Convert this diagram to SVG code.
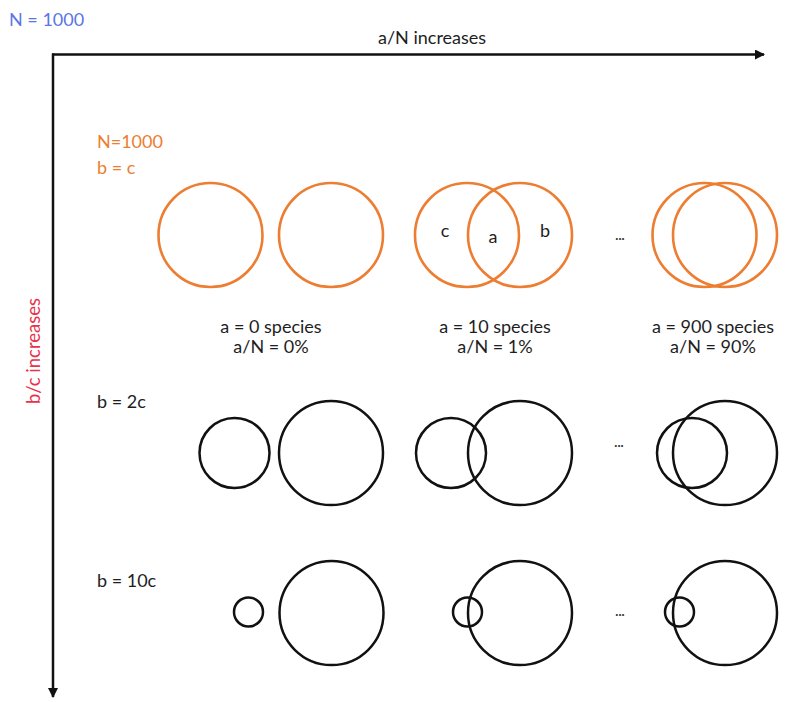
<svg xmlns="http://www.w3.org/2000/svg" width="795" height="702" viewBox="0 0 795 702">
  <defs>
    <marker id="arrow" viewBox="0 0 10 10" refX="9" refY="5" markerWidth="4" markerHeight="4" orient="auto" markerUnits="strokeWidth">
      <path d="M0,0 L10,5 L0,10 z" fill="#111"/>
    </marker>
  </defs>
  <style>
    text { font-family: Lato, "Open Sans", "Liberation Sans", sans-serif; font-size: 18px; fill: #1e1e1e; }
    .blue { fill: #5a76e4; }
    .orange { fill: #ed7d31; }
    .red { fill: #e8324c; font-size: 18.5px; }
    .mid { text-anchor: middle; }
    .dots { font-size: 13px; text-anchor: middle; font-weight: bold; fill: #333; }
    .axis { stroke: #111; stroke-width: 2.5; fill: none; }
    .oc { fill: none; stroke: #ed7d31; stroke-width: 2.6; }
    .bc { fill: none; stroke: #111; stroke-width: 2.5; }
  </style>
  <rect width="795" height="702" fill="#fff"/>

  <!-- axes -->
  <g id="connectors">
    <path class="axis" d="M52,54.5 H764" marker-end="url(#arrow)"/>
    <path class="axis" d="M53,53.5 V697" marker-end="url(#arrow)"/>
  </g>

  <!-- header and axis captions -->
  <g id="captions">
    <text class="blue" x="9" y="26">N = 1000</text>
    <text x="378" y="44">a/N increases</text>
    <text class="red mid" transform="translate(40,351) rotate(-90)">b/c increases</text>
  </g>

  <!-- row labels -->
  <g id="row-labels">
    <text class="orange" x="97" y="148">N=1000</text>
    <text class="orange" x="97" y="174">b = c</text>
    <text x="97" y="408">b = 2c</text>
    <text x="97" y="587">b = 10c</text>
  </g>

  <!-- column labels -->
  <g id="column-labels">
    <text class="mid" x="271" y="333">a = 0 species</text>
    <text class="mid" x="271" y="353">a/N = 0%</text>
    <text class="mid" x="495" y="333">a = 10 species</text>
    <text class="mid" x="495" y="353">a/N = 1%</text>
    <text class="mid" x="713" y="333">a = 900 species</text>
    <text class="mid" x="713" y="353">a/N = 90%</text>
  </g>

  <!-- row 1: b = c -->
  <g id="r1c1">
    <circle class="oc" cx="210.5" cy="235" r="52"/>
    <circle class="oc" cx="331" cy="235" r="52"/>
  </g>
  <g id="r1c2">
    <circle class="oc" cx="467" cy="235" r="52"/>
    <circle class="oc" cx="520" cy="235" r="52"/>
    <text class="mid" x="445" y="237">c</text>
    <text class="mid" x="493" y="243">a</text>
    <text class="mid" x="545" y="237">b</text>
  </g>
  <g id="r1dots"><text class="dots" x="620" y="240">...</text></g>
  <g id="r1c3">
    <circle class="oc" cx="704.5" cy="235" r="52"/>
    <circle class="oc" cx="725" cy="235" r="52"/>
  </g>

  <!-- row 2: b = 2c -->
  <g id="r2c1">
    <circle class="bc" cx="234.5" cy="453" r="35"/>
    <circle class="bc" cx="331" cy="453" r="52"/>
  </g>
  <g id="r2c2">
    <circle class="bc" cx="451" cy="453" r="35"/>
    <circle class="bc" cx="520" cy="453" r="52"/>
  </g>
  <g id="r2dots"><text class="dots" x="619" y="447">...</text></g>
  <g id="r2c3">
    <circle class="bc" cx="692" cy="453" r="35"/>
    <circle class="bc" cx="725" cy="453" r="52"/>
  </g>

  <!-- row 3: b = 10c -->
  <g id="r3c1">
    <circle class="bc" cx="248.5" cy="612" r="14.5"/>
    <circle class="bc" cx="331.5" cy="613" r="52"/>
  </g>
  <g id="r3c2">
    <circle class="bc" cx="467.5" cy="612" r="14.5"/>
    <circle class="bc" cx="520" cy="613" r="52"/>
  </g>
  <g id="r3dots"><text class="dots" x="620" y="616">...</text></g>
  <g id="r3c3">
    <circle class="bc" cx="679.5" cy="612" r="14.5"/>
    <circle class="bc" cx="725" cy="613" r="52"/>
  </g>
</svg>
